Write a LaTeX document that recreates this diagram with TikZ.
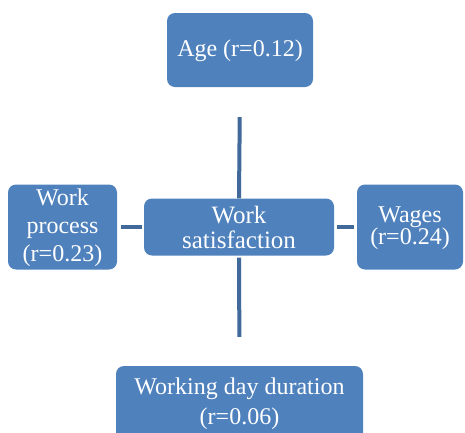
\documentclass[tikz,border=0pt]{standalone}
\usepackage{fontspec}
\setmainfont{Liberation Serif}
\definecolor{boxblue}{HTML}{4F81BD}
\definecolor{lineblue}{HTML}{41699A}
\newcommand{\tallby}[1]{\rule{0pt}{#1}}
\begin{document}
\begin{tikzpicture}[x=1pt,y=-1pt,
  box/.style={fill=boxblue, draw=none, rounded corners=8pt, text=white,
    align=center, inner sep=0pt, font=\fontsize{24}{28}\selectfont},
  spoke/.style={draw=lineblue, line width=4pt}]
\useasboundingbox (0,0) rectangle (465,432);
\node[box, minimum width=146pt, minimum height=74pt] (age) at (240,50) {\tallby{19pt}Age (r=0.12)};
\node[box, minimum width=190pt, minimum height=57pt, font=\fontsize{25}{25}\selectfont] (c) at (239,227) {Work\\satisfaction};
\node[box, minimum width=109pt, minimum height=85pt, font=\fontsize{24}{28}\selectfont] (wp) at (62.5,227) {\tallby{19pt}Work\\process\\(r=0.23)};
\node[box, minimum width=106pt, minimum height=85pt, font=\fontsize{24}{22}\selectfont] (wg) at (410,227) {\tallby{19pt}Wages\\(r=0.24)};
\node[box, minimum width=247pt, minimum height=76pt, font=\fontsize{24}{30}\selectfont] (wd) at (239.5,404) {Working day duration\\(r=0.06)};
\draw[spoke, shorten >=30pt] (c.north) -- (age.south);
\draw[spoke, shorten <=2pt, shorten >=29pt] (c.south) -- (wd.north);
\draw[spoke, shorten <=4pt, shorten >=2pt] (wp.east) -- (c.west);
\draw[spoke, shorten <=3pt, shorten >=3pt] (c.east) -- (wg.west);
\end{tikzpicture}
\end{document}
